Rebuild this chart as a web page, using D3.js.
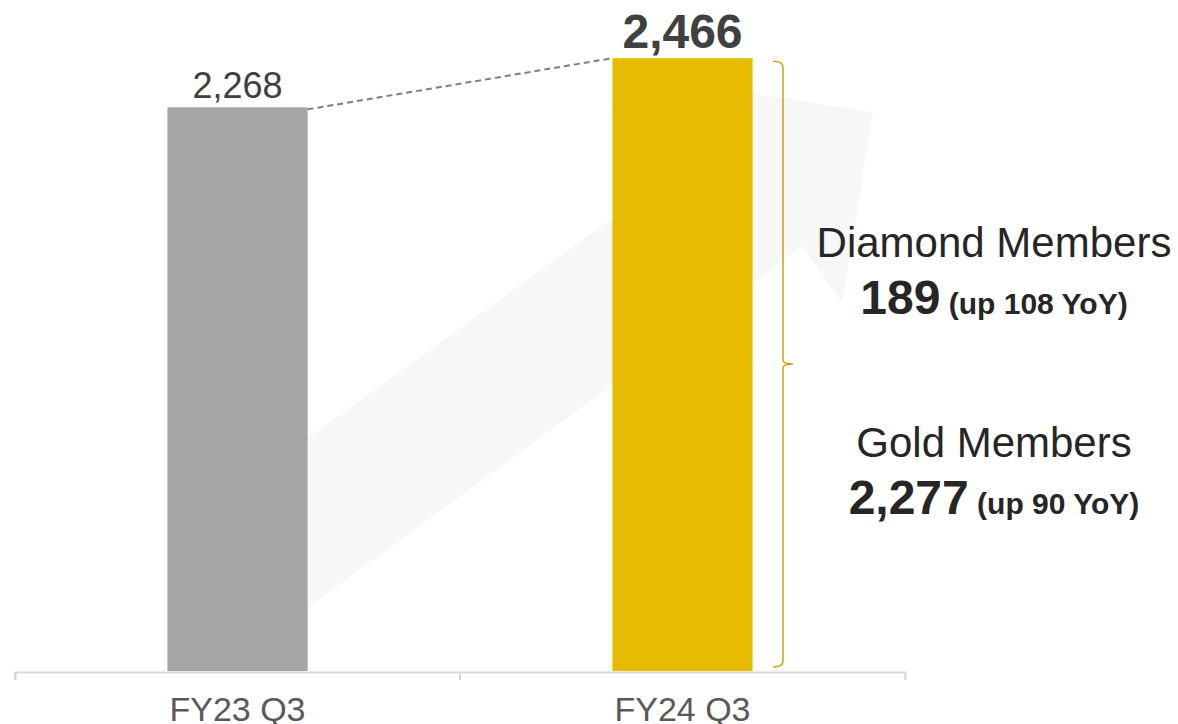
<!DOCTYPE html>
<html>
<head>
<meta charset="utf-8">
<script src="https://cdn.jsdelivr.net/npm/d3@7"></script>
<style>
  body { margin: 0; background: #fff; }
  svg { display: block; font-family: "Liberation Sans", Arial, sans-serif; }
</style>
</head>
<body>
<svg width="1178" height="724"></svg>
<script>
// data
var categories = ["FY23 Q3", "FY24 Q3"];
var totals = [2268, 2466];
var tiers = ["Gold Members", "Diamond Members"];
var tierValues = [2277, 189];      // FY24 Q3 split
var tierChange = [90, 108];        // up YoY

var svg = d3.select("svg");
var fmt = d3.format(",");

var x = d3.scaleBand().domain(categories).range([15, 905]).padding(0);
var y = d3.scaleLinear().domain([0, 2700]).range([671, 0]);
var barW = x.bandwidth() * 0.315;
var barColor = ["#a6a6a6", "#e5bc00"];

// faint background arrow (decoration)
var arrow = [[250, 650], [802, 246], [842, 303], [873, 112], [650, 78], [700, 155], [250, 480]];
svg.append("path")
  .attr("d", d3.line()(arrow) + "Z")
  .attr("fill", "#f7f7f7");

// axis
var axis = svg.append("g")
  .attr("transform", "translate(0," + 672 + ")")
  .call(d3.axisBottom(x).tickSize(8).tickSizeOuter(8).tickFormat(""));
axis.select(".domain").attr("stroke", "#d9d9d9").attr("stroke-width", 2);
axis.selectAll(".tick").remove();
axis.selectAll(".edge").data([15, 460, 905]).enter().append("line")
  .attr("x1", d => d).attr("x2", d => d)
  .attr("y1", 0).attr("y2", 8)
  .attr("stroke", "#d9d9d9").attr("stroke-width", 2);

svg.selectAll(".cat").data(categories).enter().append("text")
  .attr("x", d => x(d) + x.bandwidth() / 2)
  .attr("y", 721)
  .attr("text-anchor", "middle")
  .attr("font-size", 34)
  .attr("fill", "#595959")
  .text(d => d);

// FY23 bar
svg.append("rect")
  .attr("x", x(categories[0]) + (x.bandwidth() - barW) / 2)
  .attr("y", y(totals[0]))
  .attr("width", barW)
  .attr("height", y(0) - y(totals[0]))
  .attr("fill", barColor[0]);

// FY24 stacked bar
var stack = d3.stack().keys(tiers)([{ "Gold Members": tierValues[0], "Diamond Members": tierValues[1] }]);
svg.selectAll(".seg").data(stack).enter().append("rect")
  .attr("x", x(categories[1]) + (x.bandwidth() - barW) / 2)
  .attr("y", d => y(d[0][1]))
  .attr("width", barW)
  .attr("height", d => y(d[0][0]) - y(d[0][1]))
  .attr("fill", barColor[1]);

// dashed connector
var x0 = x(categories[0]) + (x.bandwidth() + barW) / 2;
var x1 = x(categories[1]) + (x.bandwidth() - barW) / 2;
svg.append("line")
  .attr("x1", x0).attr("y1", y(totals[0]) + 2)
  .attr("x2", x1).attr("y2", y(totals[1]))
  .attr("stroke", "#7f7f7f").attr("stroke-width", 2)
  .attr("stroke-dasharray", "6,4");

// value labels
svg.append("text")
  .attr("x", x(categories[0]) + x.bandwidth() / 2)
  .attr("y", y(totals[0]) - 9)
  .attr("text-anchor", "middle")
  .attr("font-size", 36)
  .attr("fill", "#404040")
  .text(fmt(totals[0]));
svg.append("text")
  .attr("x", x(categories[1]) + x.bandwidth() / 2)
  .attr("y", y(totals[1]) - 10)
  .attr("text-anchor", "middle")
  .attr("font-size", 48)
  .attr("font-weight", "bold")
  .attr("fill", "#404040")
  .text(fmt(totals[1]));

// brace
var bx = 783, yTop = y(totals[1]) + 3, yBot = 667, yMid = (yTop + yBot) / 2;
var brace = "M" + (bx - 10) + "," + yTop +
  " Q" + bx + "," + yTop + " " + bx + "," + (yTop + 6) +
  " L" + bx + "," + (yMid - 4) +
  " Q" + bx + "," + yMid + " " + (bx + 10) + "," + yMid +
  " Q" + bx + "," + yMid + " " + bx + "," + (yMid + 4) +
  " L" + bx + "," + (yBot - 6) +
  " Q" + bx + "," + yBot + " " + (bx - 10) + "," + yBot;
svg.append("path").attr("d", brace)
  .attr("fill", "none").attr("stroke", "#c9a211").attr("stroke-width", 1.5);

// tier labels
var lx = 994;
var labelY = [yMid + 93, yMid - 107];
tiers.forEach(function (t, i) {
  svg.append("text")
    .attr("x", lx).attr("y", labelY[i])
    .attr("text-anchor", "middle")
    .attr("font-size", 42)
    .attr("fill", "#262626")
    .text(t);
  var t2 = svg.append("text")
    .attr("x", lx).attr("y", labelY[i] + 57)
    .attr("text-anchor", "middle")
    .attr("font-weight", "bold")
    .attr("fill", "#262626");
  t2.append("tspan").attr("font-size", 48).text(fmt(tierValues[i]));
  t2.append("tspan").attr("font-size", 30).text(" (up " + tierChange[i] + " YoY)");
});
</script>
</body>
</html>
